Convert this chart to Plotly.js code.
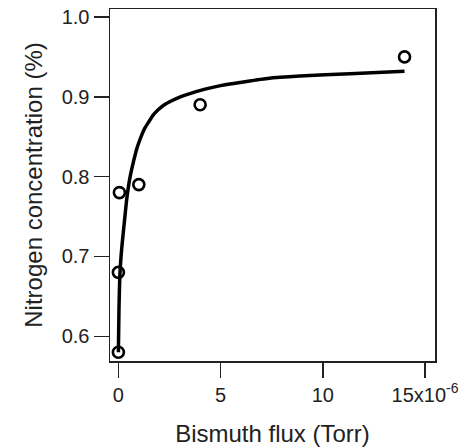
<!DOCTYPE html>
<html>
<head>
<meta charset="utf-8">
<script src="https://cdn.plot.ly/plotly-3.0.1.min.js"></script>
<style>html,body{margin:0;padding:0;background:#fff;}#chart{width:459px;height:448px;}</style>
</head>
<body>
<div id="chart"></div>
<script>
// Measured points (Bismuth flux in units of 1e-6 Torr, nitrogen %)
var fluxPoints = [0, 0, 0.05, 1.0, 4.0, 14.0];
var nitrogenPoints = [0.58, 0.68, 0.78, 0.79, 0.89, 0.95];

// Fit curve
var fitFlux = [0, 0.03, 0.07, 0.13, 0.2, 0.3, 0.4, 0.5, 0.6, 0.75, 0.9, 1.02, 1.14, 1.3, 1.47, 1.7, 1.96, 2.25, 2.61, 3.0, 3.42, 4.24, 5.0, 5.95, 7.3, 8.88, 11.33, 14.0];
var fitNitrogen = [0.58, 0.635, 0.675, 0.70, 0.72, 0.745, 0.77, 0.789, 0.803, 0.82, 0.835, 0.844, 0.852, 0.861, 0.868, 0.877, 0.884, 0.890, 0.895, 0.8995, 0.9034, 0.9096, 0.914, 0.918, 0.923, 0.926, 0.929, 0.932];

var xTickVals = [0, 5, 10, 15];
var xTickText = ['0', '5', '10', '15x10<sup>-6</sup>'];
var yTickVals = [0.6, 0.7, 0.8, 0.9, 1.0];
var yTickText = ['0.6', '0.7', '0.8', '0.9', '1.0'];

var font = 'Liberation Sans, Arial, Helvetica, sans-serif';

var traces = [
  {
    x: fitFlux, y: fitNitrogen, type: 'scatter', mode: 'lines',
    line: {color: '#000', width: 3.5, shape: 'spline', smoothing: 0.5},
    hoverinfo: 'skip', showlegend: false
  },
  {
    x: fluxPoints, y: nitrogenPoints, type: 'scatter', mode: 'markers',
    marker: {symbol: 'circle-open', size: 11, color: '#000', line: {width: 2.6, color: '#000'}},
    showlegend: false
  }
];

var layout = {
  width: 459, height: 448,
  margin: {l: 110, r: 24, t: 9, b: 87},
  paper_bgcolor: '#fff', plot_bgcolor: '#fff',
  font: {family: font, color: '#222', size: 20},
  xaxis: {
    range: [-0.41, 15.49],
    tickvals: xTickVals, ticktext: xTickText,
    ticks: 'outside', ticklen: 15, tickwidth: 1.5, tickcolor: '#222',
    showline: true, linecolor: '#222', linewidth: 1.5, mirror: true,
    showgrid: false, zeroline: false,
    tickfont: {size: 20, family: font, color: '#222'},
    title: {text: 'Bismuth flux (Torr)', font: {size: 24, family: font, color: '#222'}, standoff: 20},
    automargin: false
  },
  yaxis: {
    range: [0.569, 1.01],
    tickvals: yTickVals, ticktext: yTickText,
    ticks: 'outside', ticklen: 15, tickwidth: 1.5, tickcolor: '#222',
    showline: true, linecolor: '#222', linewidth: 1.5, mirror: true,
    showgrid: false, zeroline: false,
    tickfont: {size: 20, family: font, color: '#222'},
    title: {text: 'Nitrogen concentration (%)', font: {size: 24, family: font, color: '#222'}, standoff: 12},
    automargin: false
  }
};

Plotly.newPlot('chart', traces, layout, {displayModeBar: false, staticPlot: true});
</script>
</body>
</html>
